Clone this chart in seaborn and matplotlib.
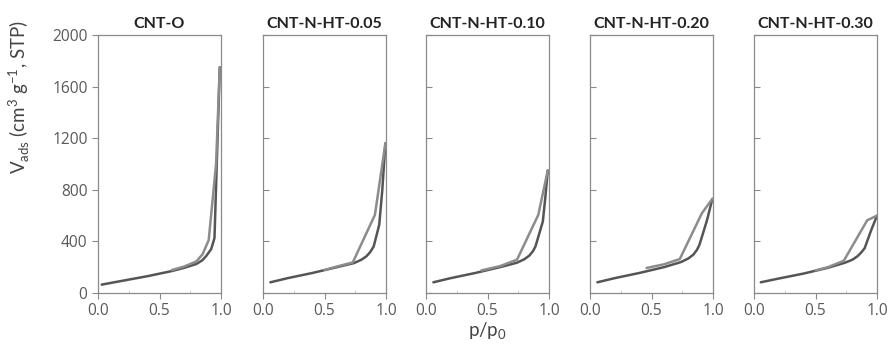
import numpy as np
import pandas as pd
import matplotlib
matplotlib.use("Agg")
import matplotlib.pyplot as plt
import seaborn as sns
from matplotlib.ticker import MultipleLocator

titles = ["CNT-O", "CNT-N-HT-0.05", "CNT-N-HT-0.10", "CNT-N-HT-0.20", "CNT-N-HT-0.30"]

# adsorption branches (dark)
ads_x = [
    [0.03, 0.2, 0.4, 0.6, 0.7, 0.8, 0.85, 0.88, 0.92, 0.947, 0.99],
    [0.06, 0.2, 0.4, 0.6, 0.74, 0.8, 0.84, 0.87, 0.9, 0.945, 0.97, 0.995],
    [0.06, 0.2, 0.4, 0.6, 0.74, 0.8, 0.84, 0.87, 0.89, 0.95, 0.97, 0.99],
    [0.06, 0.2, 0.4, 0.6, 0.74, 0.8, 0.84, 0.87, 0.89, 0.95, 0.995],
    [0.055, 0.2, 0.4, 0.6, 0.74, 0.8, 0.84, 0.87, 0.9, 0.95, 1.0],
]
ads_y = [
    [65, 95, 130, 170, 195, 225, 255, 287, 340, 426, 1750],
    [83, 115, 155, 200, 232, 258, 284, 315, 361, 529, 800, 1161],
    [83, 115, 155, 200, 235, 262, 290, 325, 361, 555, 740, 950],
    [83, 115, 155, 200, 240, 268, 297, 335, 374, 560, 730],
    [83, 112, 150, 195, 235, 258, 284, 312, 348, 480, 600],
]
# desorption branches (light)
des_x = [
    [0.99, 0.96, 0.9, 0.85, 0.8, 0.7, 0.6],
    [0.995, 0.91, 0.73, 0.6, 0.5],
    [0.99, 0.913, 0.74, 0.6, 0.45],
    [0.995, 0.91, 0.73, 0.6, 0.46],
    [1.0, 0.92, 0.73, 0.6, 0.5],
]
des_y = [
    [1750, 1000, 410, 300, 245, 205, 178],
    [1161, 606, 237, 205, 178],
    [950, 606, 258, 208, 175],
    [730, 619, 263, 222, 194],
    [600, 563, 250, 200, 175],
]

rows = []
for t, ax_, ay_, dx_, dy_ in zip(titles, ads_x, ads_y, des_x, des_y):
    for i, (x, y) in enumerate(zip(ax_, ay_)):
        rows.append(dict(sample=t, branch="ads", x=x, y=y, order=i))
    for i, (x, y) in enumerate(zip(dx_, dy_)):
        rows.append(dict(sample=t, branch="des", x=x, y=y, order=i))
df = pd.DataFrame(rows)

sns.set_style("ticks")
plt.rcParams["font.family"] = ["Lato", "DejaVu Sans"]

fig = plt.figure(figsize=(8.88, 3.48), dpi=100)
lefts_px = [98, 263, 426, 590, 754]
W, H = 888, 348
axes = []
for i, (t, lp) in enumerate(zip(titles, lefts_px)):
    ax = fig.add_axes([lp / W, 55 / H, 123 / W, 258 / H])
    axes.append(ax)
    sub = df[df["sample"] == t]
    sns.lineplot(data=sub, x="x", y="y", hue="branch", sort=False, estimator=None,
                 units="branch", palette={"ads": "#555555", "des": "#8c8c8c"},
                 linewidth=1.8, legend=False, ax=ax)
    ax.set_xlim(0, 1.0)
    ax.set_ylim(0, 2000)
    ax.set_xticks([0.0, 0.5, 1.0])
    ax.set_xticklabels(["0.0", "0.5", "1.0"])
    ax.xaxis.set_minor_locator(MultipleLocator(0.25))
    ax.set_yticks([0, 400, 800, 1200, 1600, 2000])
    ax.set_xlabel("")
    ax.set_ylabel("")
    ax.set_title(t, fontsize=11.5, fontweight="bold", color="#222222", pad=5)
    for s in ax.spines.values():
        s.set_visible(True)
        s.set_color("#8a8a8a")
        s.set_linewidth(0.9)
    ax.tick_params(axis="x", direction="out", length=4, colors="#8a8a8a",
                   labelcolor="#5a5a5a", pad=3)
    ax.tick_params(axis="x", which="minor", direction="in", length=2, colors="#c8c8c8")
    ax.tick_params(axis="y", direction="in" if i > 0 else "out", length=4,
                   colors="#8a8a8a", labelcolor="#5a5a5a")
    for lab in ax.get_xticklabels() + ax.get_yticklabels():
        lab.set_family(["Open Sans", "DejaVu Sans"])
        lab.set_fontsize(11.2)
    if i > 0:
        ax.tick_params(axis="y", labelleft=False)

fig.text(19 / W, 1 - 97 / H,
         r"V$_{\mathregular{ads}}$ (cm$^{\mathregular{3}}$ g$^{\mathregular{-1}}$, STP)",
         rotation=90, ha="center", va="center", fontsize=13.5, color="#444444")
fig.text(487 / W, 17 / H, r"p/p$_{\mathregular{0}}$", ha="center", va="center",
         fontsize=13.5, color="#444444")

fig.savefig("out.png", dpi=100)
